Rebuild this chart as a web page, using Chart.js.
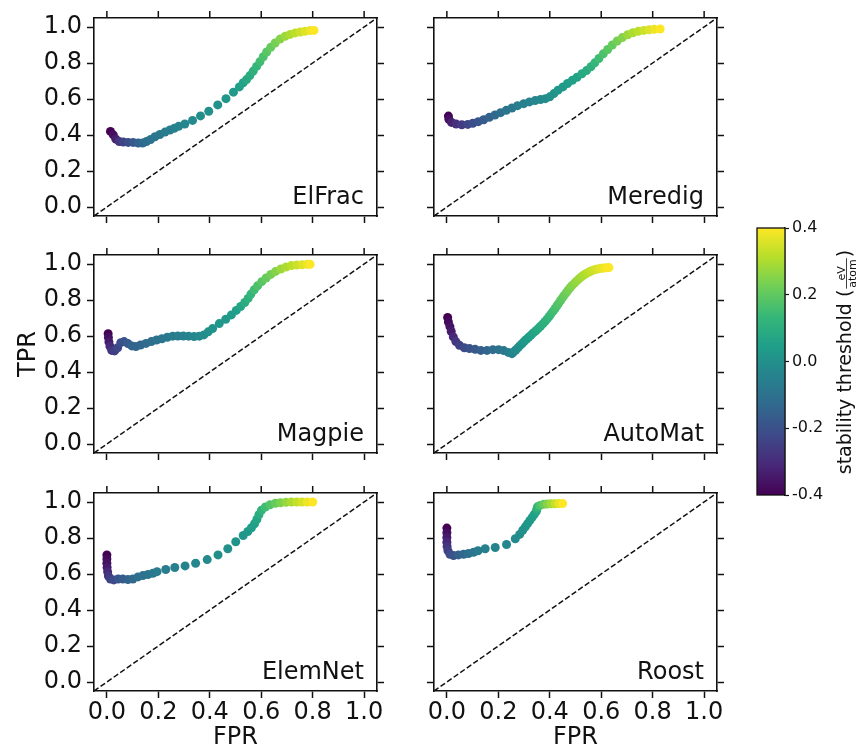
<!DOCTYPE html>
<html>
<head>
<meta charset="utf-8">
<script src="https://cdn.jsdelivr.net/npm/chart.js@4.4.1/dist/chart.umd.min.js"></script>
<style>
  body { margin: 0; background: #fff; width: 859px; height: 754px; overflow: hidden; position: relative; }
  canvas { position: absolute; }
</style>
</head>
<body>
<script>
// axes
const tickValues = [0, 0.2, 0.4, 0.6, 0.8, 1.0];
const axisRange = [-0.05, 1.05];
const diagonal = [-0.05, 1.05];
const cbarTicks = [-0.4, -0.2, 0.0, 0.2, 0.4];
const cbarRange = [-0.4, 0.4];
const modelNames = ['ElFrac', 'Meredig', 'Magpie', 'AutoMat', 'ElemNet', 'Roost'];

// ElFrac
const elfracFpr = [0.014,0.025,0.035,0.048,0.064,0.083,0.102,0.122,0.139,0.154,0.170,0.187,0.206,0.226,0.245,0.262,0.279,0.303,0.333,0.364,0.396,0.431,0.463,0.492,0.515,0.530,0.543,0.556,0.569,0.582,0.595,0.608,0.621,0.637,0.654,0.673,0.693,0.712,0.732,0.751,0.770,0.790,0.805];
const elfracTpr = [0.420,0.401,0.377,0.364,0.361,0.359,0.359,0.355,0.355,0.364,0.375,0.390,0.403,0.416,0.428,0.437,0.448,0.461,0.481,0.506,0.532,0.567,0.602,0.638,0.667,0.690,0.708,0.730,0.755,0.781,0.807,0.835,0.861,0.887,0.911,0.933,0.948,0.959,0.967,0.972,0.976,0.980,0.981];
const elfracThr = [-0.40,-0.37,-0.33,-0.28,-0.24,-0.21,-0.18,-0.15,-0.13,-0.11,-0.10,-0.09,-0.08,-0.07,-0.06,-0.05,-0.04,-0.03,-0.02,-0.01,0.00,0.01,0.02,0.03,0.05,0.06,0.08,0.09,0.11,0.13,0.15,0.17,0.19,0.21,0.23,0.25,0.28,0.30,0.32,0.34,0.36,0.38,0.40];

// Meredig
const meredigFpr = [0.006,0.008,0.018,0.036,0.058,0.081,0.101,0.122,0.143,0.165,0.187,0.209,0.231,0.253,0.275,0.299,0.321,0.343,0.364,0.383,0.400,0.416,0.432,0.451,0.469,0.488,0.506,0.525,0.543,0.560,0.575,0.591,0.608,0.625,0.643,0.662,0.682,0.703,0.723,0.744,0.765,0.786,0.806,0.829];
const meredigTpr = [0.505,0.487,0.470,0.461,0.457,0.459,0.465,0.474,0.485,0.498,0.511,0.524,0.537,0.550,0.563,0.574,0.584,0.591,0.597,0.602,0.612,0.630,0.649,0.667,0.686,0.704,0.721,0.740,0.758,0.779,0.801,0.825,0.851,0.875,0.900,0.922,0.941,0.957,0.968,0.976,0.981,0.985,0.987,0.989];
const meredigThr = [-0.40,-0.37,-0.33,-0.29,-0.26,-0.23,-0.21,-0.19,-0.17,-0.15,-0.13,-0.11,-0.09,-0.08,-0.06,-0.05,-0.04,-0.03,-0.02,-0.01,0.00,0.01,0.02,0.03,0.04,0.05,0.06,0.08,0.09,0.11,0.13,0.15,0.17,0.19,0.21,0.23,0.25,0.28,0.30,0.32,0.34,0.36,0.38,0.40];

// Magpie
const magpieFpr = [0.005,0.006,0.008,0.012,0.019,0.030,0.042,0.054,0.067,0.082,0.097,0.113,0.131,0.152,0.173,0.193,0.214,0.235,0.256,0.276,0.297,0.318,0.339,0.359,0.377,0.394,0.411,0.437,0.462,0.484,0.503,0.520,0.536,0.549,0.560,0.573,0.586,0.602,0.619,0.637,0.656,0.676,0.696,0.717,0.738,0.759,0.779,0.790];
const magpieTpr = [0.613,0.591,0.567,0.543,0.520,0.517,0.535,0.563,0.569,0.558,0.545,0.541,0.550,0.559,0.569,0.578,0.585,0.593,0.599,0.600,0.600,0.599,0.597,0.599,0.606,0.623,0.641,0.669,0.693,0.717,0.742,0.764,0.786,0.809,0.833,0.857,0.879,0.902,0.922,0.942,0.959,0.972,0.983,0.991,0.994,0.996,0.998,0.998];
const magpieThr = [-0.40,-0.37,-0.34,-0.31,-0.28,-0.25,-0.23,-0.21,-0.19,-0.17,-0.15,-0.14,-0.13,-0.12,-0.11,-0.10,-0.09,-0.08,-0.07,-0.06,-0.05,-0.04,-0.03,-0.02,-0.01,0.00,0.01,0.02,0.03,0.04,0.05,0.07,0.09,0.11,0.13,0.15,0.17,0.19,0.21,0.23,0.25,0.28,0.30,0.32,0.34,0.36,0.38,0.40];

// AutoMat
const automatFpr = [0.003,0.006,0.012,0.017,0.025,0.035,0.049,0.068,0.088,0.110,0.132,0.156,0.179,0.201,0.221,0.239,
  0.253,0.260,0.268,0.276,0.283,0.292,0.300,0.309,0.318,0.327,0.336,0.346,0.355,0.364,0.373,0.382,0.390,0.398,0.405,0.413,
  0.421,0.428,0.435,0.442,0.449,0.456,0.464,0.471,0.479,0.487,0.496,0.505,0.514,0.523,0.532,0.542,0.552,0.561,0.571,0.581,
  0.591,0.600,0.610,0.620,0.630];
const automatTpr = [0.703,0.678,0.652,0.625,0.595,0.569,0.548,0.535,0.530,0.526,0.520,0.520,0.524,0.524,0.519,0.509,
  0.502,0.512,0.522,0.534,0.545,0.557,0.569,0.581,0.593,0.605,0.617,0.629,0.641,0.654,0.667,0.681,0.695,0.709,0.723,0.738,
  0.753,0.768,0.783,0.797,0.812,0.826,0.840,0.854,0.868,0.881,0.894,0.906,0.918,0.929,0.939,0.947,0.955,0.961,0.967,0.971,
  0.974,0.976,0.978,0.979,0.980];
const automatThr = [-0.40,-0.38,-0.36,-0.34,-0.31,-0.28,-0.25,-0.22,-0.20,-0.18,-0.16,-0.14,-0.12,-0.10,-0.08,-0.06,
  -0.04,-0.03,-0.02,-0.01,0.00,0.01,0.02,0.03,0.04,0.05,0.06,0.07,0.08,0.09,0.10,0.11,0.12,0.13,0.14,0.15,
  0.16,0.17,0.18,0.19,0.20,0.21,0.22,0.23,0.24,0.25,0.26,0.27,0.28,0.29,0.30,0.31,0.32,0.33,0.34,0.35,
  0.36,0.37,0.38,0.39,0.40];

// ElemNet
const elemnetFpr = [0.000,0.000,0.000,0.001,0.003,0.006,0.014,0.027,0.044,0.062,0.082,0.101,0.121,0.140,0.160,0.179,0.195,0.229,0.264,0.304,0.345,0.390,0.432,0.470,0.501,0.530,0.548,0.562,0.574,0.583,0.591,0.601,0.616,0.634,0.655,0.675,0.696,0.717,0.738,0.758,0.779,0.800];
const elemnetTpr = [0.706,0.684,0.660,0.636,0.612,0.589,0.572,0.567,0.572,0.572,0.569,0.572,0.584,0.591,0.597,0.604,0.613,0.625,0.636,0.645,0.660,0.680,0.706,0.740,0.779,0.814,0.836,0.857,0.879,0.903,0.929,0.954,0.972,0.985,0.993,0.996,0.998,1.000,1.000,1.000,1.000,1.000];
const elemnetThr = [-0.40,-0.38,-0.36,-0.34,-0.31,-0.28,-0.25,-0.22,-0.19,-0.17,-0.15,-0.13,-0.11,-0.10,-0.09,-0.08,-0.07,-0.06,-0.05,-0.04,-0.03,-0.02,-0.01,0.00,0.01,0.02,0.03,0.04,0.05,0.07,0.09,0.12,0.15,0.18,0.21,0.24,0.27,0.30,0.33,0.35,0.38,0.40];

// Roost
const roostFpr = [0.000,0.000,0.000,0.000,0.001,0.004,0.012,0.026,0.045,0.065,0.084,0.104,0.121,0.149,0.188,0.232,0.266,0.283,0.295,0.305,0.314,0.323,0.332,0.340,0.348,0.350,0.352,0.362,0.376,0.390,0.405,0.420,0.435,0.450];
const roostTpr = [0.855,0.829,0.803,0.777,0.753,0.730,0.710,0.703,0.706,0.710,0.714,0.721,0.729,0.740,0.747,0.764,0.796,0.820,0.843,0.862,0.880,0.898,0.916,0.932,0.948,0.962,0.973,0.981,0.987,0.989,0.990,0.990,0.991,0.991];
const roostThr = [-0.40,-0.37,-0.34,-0.31,-0.28,-0.25,-0.22,-0.19,-0.16,-0.13,-0.11,-0.09,-0.07,-0.05,-0.04,-0.03,-0.02,-0.01,0.00,0.01,0.02,0.03,0.04,0.05,0.07,0.10,0.13,0.17,0.21,0.25,0.29,0.33,0.37,0.40];

const models = [
  { fpr: elfracFpr, tpr: elfracTpr, thr: elfracThr },
  { fpr: meredigFpr, tpr: meredigTpr, thr: meredigThr },
  { fpr: magpieFpr, tpr: magpieTpr, thr: magpieThr },
  { fpr: automatFpr, tpr: automatTpr, thr: automatThr },
  { fpr: elemnetFpr, tpr: elemnetTpr, thr: elemnetThr },
  { fpr: roostFpr, tpr: roostTpr, thr: roostThr }
];

const FONT = '"DejaVu Sans", sans-serif';
const INK = '#111';
const TICK = 7, TICK_W = 1.5, SPINE_W = 1.6;
const boxLeft = [94, 434], boxTop = [18, 255, 493], boxW = 283, boxH = 198;

// viridis colormap
const viridisStops = ['#440154','#482878','#3e4989','#31688e','#26828e','#1f9e89','#35b779','#6ece58','#b5de2b','#fde725'];
const viridisRgb = viridisStops.map(h => [1, 3, 5].map(i => parseInt(h.substr(i, 2), 16)));
function viridis(v) {
  let t = (v - cbarRange[0]) / (cbarRange[1] - cbarRange[0]);
  t = Math.min(1, Math.max(0, t));
  const p = t * (viridisRgb.length - 1);
  const i = Math.min(Math.floor(p), viridisRgb.length - 2);
  const f = p - i;
  const a = viridisRgb[i], b = viridisRgb[i + 1];
  return 'rgb(' + a.map((c, j) => Math.round(c + (b[j] - c) * f)).join(',') + ')';
}

// model name in the lower right corner, plus tick marks along the top spine
const panelLabel = {
  id: 'panelLabel',
  afterDraw(chart, args, opts) {
    const { ctx, chartArea: a } = chart;
    ctx.save();
    ctx.font = '24px ' + FONT;
    ctx.fillStyle = INK;
    ctx.textAlign = 'right';
    ctx.textBaseline = 'alphabetic';
    ctx.fillText(opts.text, a.right - 13, a.bottom - 12);
    ctx.strokeStyle = INK;
    ctx.lineWidth = TICK_W;
    tickValues.forEach(v => {
      const px = chart.scales.x.getPixelForValue(v);
      ctx.beginPath();
      ctx.moveTo(px, a.top - TICK);
      ctx.lineTo(px, a.top);
      ctx.stroke();
    });
    ctx.restore();
  }
};

function axis(pos, size, showLabels, title) {
  const horiz = pos === 'top' || pos === 'bottom';
  return {
    type: 'linear', position: pos, min: axisRange[0], max: axisRange[1],
    afterBuildTicks: s => { s.ticks = tickValues.map(v => ({ value: v })); },
    afterFit: s => { if (horiz) s.height = size; else s.width = size; },
    grid: { drawOnChartArea: false, drawTicks: pos !== 'top', tickLength: TICK, tickColor: INK, tickWidth: TICK_W },
    border: { display: true, color: INK, width: SPINE_W },
    ticks: { display: showLabels, font: { family: FONT, size: 24 }, color: INK, padding: horiz ? 0 : 5,
             maxRotation: 0, autoSkip: false, callback: v => v.toFixed(1) },
    title: { display: !!title, text: title || '', font: { family: FONT, size: 24 }, color: INK,
             padding: horiz ? { top: 0, bottom: 2 } : { top: 14, bottom: 0 } }
  };
}

models.forEach((m, k) => {
  const r = Math.floor(k / 2), c = k % 2;
  // room round each plot box; top/bottom kept wide enough for the y tick labels
  const L = c === 0 ? 94 : 24, R = 24, T = 24, B = r === 2 ? 63 : 24;
  const cv = document.createElement('canvas');
  cv.width = boxW + L + R;
  cv.height = boxH + T + B;
  cv.style.left = (boxLeft[c] - L) + 'px';
  cv.style.top = (boxTop[r] - T) + 'px';
  document.body.appendChild(cv);

  new Chart(cv, {
    type: 'scatter',
    data: {
      datasets: [
        {
          data: m.fpr.map((x, i) => ({ x, y: m.tpr[i] })),
          backgroundColor: m.thr.map(viridis),
          pointRadius: 4.5, pointHoverRadius: 4.5, borderWidth: 0
        },
        {
          data: diagonal.map(v => ({ x: v, y: v })),
          showLine: true, borderColor: INK, borderWidth: 1.5, borderDash: [5.5, 2.5],
          pointRadius: 0, fill: false
        }
      ]
    },
    options: {
      responsive: false, animation: false, devicePixelRatio: 1,
      layout: { padding: 0 },
      plugins: { legend: { display: false }, tooltip: { enabled: false }, panelLabel: { text: modelNames[k] } },
      scales: {
        x: axis('bottom', B, r === 2, r === 2 ? 'FPR' : ''),
        x2: axis('top', T, false, ''),
        y: axis('left', L, c === 0, k === 2 ? 'TPR' : ''),
        y2: axis('right', R, false, '')
      }
    },
    plugins: [panelLabel]
  });
});

// colorbar
const colorbar = {
  id: 'colorbar',
  beforeDatasetsDraw(chart) {
    const { ctx, chartArea: a } = chart;
    const g = ctx.createLinearGradient(0, a.bottom, 0, a.top);
    viridisStops.forEach((col, i) => g.addColorStop(i / (viridisStops.length - 1), col));
    ctx.save();
    ctx.fillStyle = g;
    ctx.fillRect(a.left, a.top, a.right - a.left, a.bottom - a.top);
    ctx.strokeStyle = INK;
    ctx.lineWidth = 1.3;
    ctx.strokeRect(a.left, a.top, a.right - a.left, a.bottom - a.top);
    ctx.restore();
  },
  afterDraw(chart) {
    const ctx = chart.ctx;
    ctx.save();
    ctx.translate(93, 147);
    ctx.rotate(-Math.PI / 2);
    ctx.fillStyle = INK;
    ctx.textBaseline = 'alphabetic';
    ctx.textAlign = 'left';
    const big = '19px ' + FONT, small = '11px ' + FONT;
    const main = 'stability threshold ';
    ctx.font = big;
    const wMain = ctx.measureText(main).width, wOpen = ctx.measureText('(').width, wClose = ctx.measureText(')').width;
    ctx.font = small;
    const wNum = ctx.measureText('eV').width, wDen = ctx.measureText('atom').width;
    const wFrac = Math.max(wNum, wDen) + 4;
    let x = -(wMain + wOpen + wFrac + wClose) / 2;
    ctx.font = big;
    ctx.fillText(main, x, 8); x += wMain;
    ctx.fillText('(', x, 8); x += wOpen;
    ctx.font = small;
    ctx.fillText('eV', x + (wFrac - wNum) / 2, 1.5);
    ctx.fillText('atom', x + (wFrac - wDen) / 2, 12.5);
    ctx.fillRect(x + 1, 3, wFrac - 2, 0.8); x += wFrac;
    ctx.font = big;
    ctx.fillText(')', x, 8);
    ctx.restore();
  }
};

const cb = document.createElement('canvas');
cb.width = 109; cb.height = 295;
cb.style.left = '750px'; cb.style.top = '215px';
document.body.appendChild(cb);
new Chart(cb, {
  type: 'scatter',
  data: { datasets: [{ data: [] }] },
  options: {
    responsive: false, animation: false, devicePixelRatio: 1,
    layout: { padding: { left: 7, top: 13, bottom: 15, right: 0 } },
    plugins: { legend: { display: false }, tooltip: { enabled: false } },
    scales: {
      x: { display: false, min: 0, max: 1 },
      y: {
        type: 'linear', position: 'right', min: cbarRange[0], max: cbarRange[1],
        afterBuildTicks: s => { s.ticks = cbarTicks.map(v => ({ value: v })); },
        afterFit: s => { s.width = 74; },
        grid: { drawOnChartArea: false, drawTicks: true, tickLength: 4, tickColor: INK, tickWidth: 1.2 },
        border: { display: true, color: INK, width: 1.3 },
        ticks: { font: { family: FONT, size: 16 }, color: INK, padding: 3, callback: v => v.toFixed(1) }
      }
    }
  },
  plugins: [colorbar]
});
</script>
</body>
</html>
